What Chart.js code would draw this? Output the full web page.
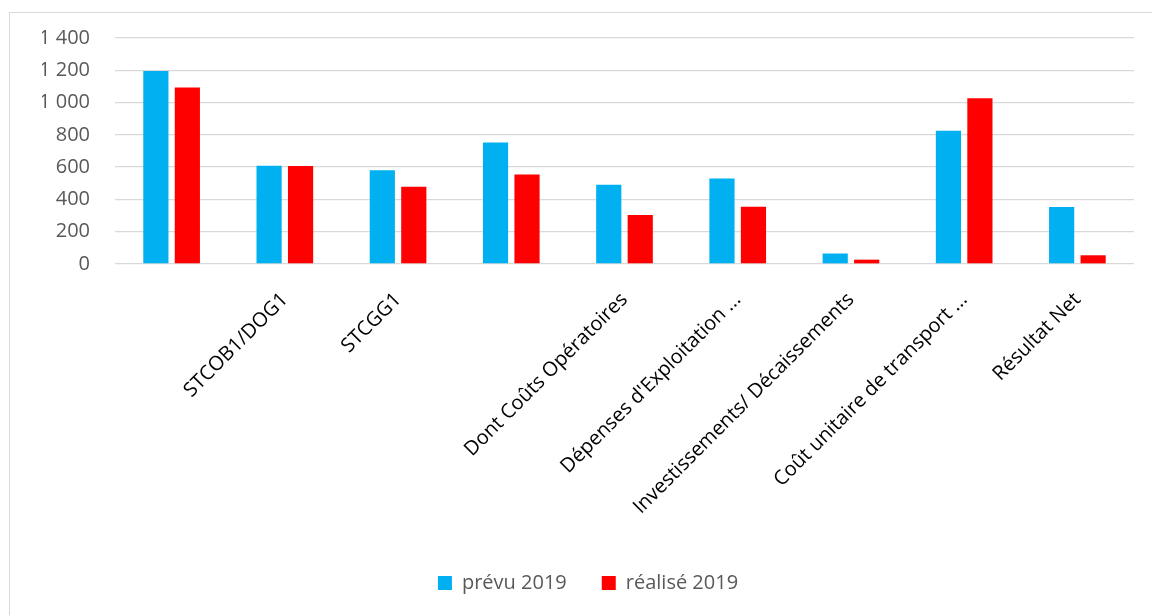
<!DOCTYPE html>
<html>
<head>
<meta charset="utf-8">
<script src="https://cdn.jsdelivr.net/npm/chart.js@4"></script>
<style>
  html, body { margin: 0; padding: 0; background: #fff; overflow: hidden; }
  #wrap { position: relative; width: 1152px; height: 615px; }
  #frame { position: absolute; left: 9px; top: 12px; width: 1200px; height: 700px;
           border: 1px solid #d9d9d9; box-sizing: border-box; pointer-events: none; }
  canvas { position: absolute; left: 0; top: 0; }
</style>
</head>
<body>
<div id="wrap">
  <div id="frame"></div>
  <canvas id="chart" width="1152" height="615"></canvas>
</div>
<script>
// Category names (two groups carry no name on the axis)
const categories = [
  "",
  "STCOB1/DOG1",
  "STCGG1",
  "",
  "Dont Coûts Opératoires",
  "Dépenses d'Exploitation ...",
  "Investissements/ Décaissements",
  "Coût unitaire de transport ...",
  "Résultat Net"
];

const seriesNames = ["prévu 2019", "réalisé 2019"];
const prevu2019   = [1195, 608, 581, 752, 491, 529, 65, 825, 353];
const realise2019 = [1094, 607, 479, 554, 303, 354, 27, 1026, 54];

const yTickLabels = ["0", "200", "400", "600", "800", "1 000", "1 200", "1 400"];

const FONT = "'Open Sans', 'DejaVu Sans', sans-serif";

new Chart(document.getElementById("chart"), {
  type: "bar",
  data: {
    labels: categories,
    datasets: [
      { label: seriesNames[0], data: prevu2019, backgroundColor: "#00B0F0",
        categoryPercentage: 0.556, barPercentage: 0.8 },
      { label: seriesNames[1], data: realise2019, backgroundColor: "#FF0000",
        categoryPercentage: 0.556, barPercentage: 0.8 }
    ]
  },
  options: {
    responsive: false,
    animation: false,
    layout: { padding: { left: 42, right: 18, top: 38, bottom: 12 } },
    plugins: {
      tooltip: { enabled: false },
      legend: {
        position: "bottom",
        labels: {
          boxWidth: 14, boxHeight: 14, padding: 35,
          color: "#595959",
          font: { family: FONT, size: 20 }
        }
      }
    },
    scales: {
      x: {
        grid: { display: false, drawTicks: false },
        border: { display: false },
        ticks: {
          autoSkip: false, maxRotation: 45, minRotation: 45, padding: 24,
          color: "#000000",
          font: { family: FONT, size: 20 }
        },
        afterFit: (scale) => { scale.height = 274; }
      },
      y: {
        min: 0, max: 1400,
        grid: { color: "#d9d9d9", lineWidth: 1.3, drawTicks: false },
        border: { display: false },
        ticks: {
          stepSize: 200, padding: 25, color: "#595959",
          font: { family: FONT, size: 20 },
          callback: (v, i) => yTickLabels[i]
        },
        afterFit: (scale) => { scale.width = 73; }
      }
    }
  }
});
</script>
</body>
</html>
